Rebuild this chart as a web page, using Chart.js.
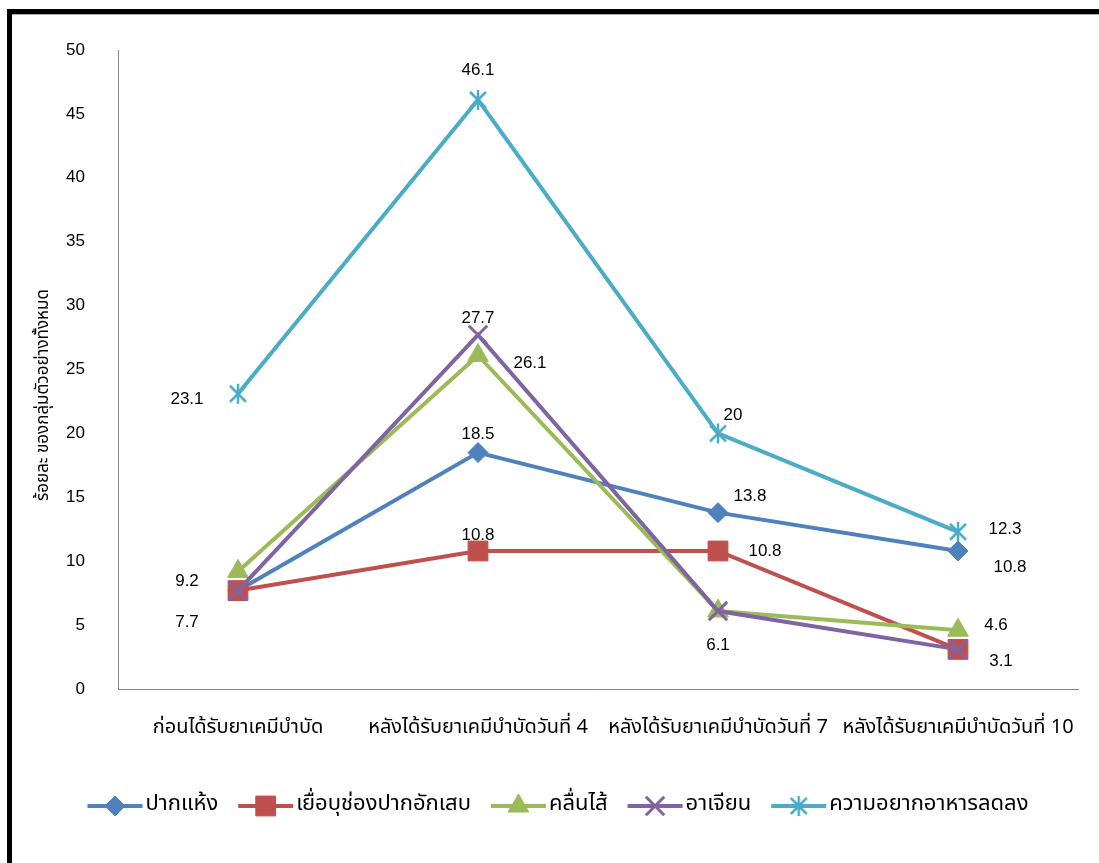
<!DOCTYPE html>
<html>
<head>
<meta charset="utf-8">
<script src="https://cdn.jsdelivr.net/npm/chart.js@4"></script>
<style>
  body { margin: 0; background: #fff; }
  #wrap { position: relative; width: 1099px; height: 863px; overflow: hidden; }
  #frameL { position: absolute; left: 7px; top: 9px; width: 5px; height: 854px; background: #000; }
  #frameT { position: absolute; left: 7px; top: 9px; width: 1092px; height: 5px; background: #000; }
  #frameT2 { position: absolute; left: 12px; top: 14px; width: 1087px; height: 1px; background: #aaa; }
  canvas { position: absolute; left: 0; top: 0; }
</style>
</head>
<body>
<div id="wrap">
  <canvas id="myChart" width="1099" height="863"></canvas>
  <div id="frameL"></div>
  <div id="frameT"></div>
  <div id="frameT2"></div>
</div>
<script>
const ctx = document.getElementById('myChart');
const thaiFont = "'Noto Sans Thai', 'Noto Sans', 'DejaVu Sans', sans-serif";
const numFont = "'Liberation Sans', Arial, sans-serif";

// data
const categories = ['ก่อนได้รับยาเคมีบำบัด', 'หลังได้รับยาเคมีบำบัดวันที่ 4', 'หลังได้รับยาเคมีบำบัดวันที่ 7', 'หลังได้รับยาเคมีบำบัดวันที่ 10'];
const seriesNames = ['ปากแห้ง', 'เยื่อบุช่องปากอักเสบ', 'คลื่นไส้', 'อาเจียน', 'ความอยากอาหารลดลง'];
const dryMouth = [7.7, 18.5, 13.8, 10.8];
const mucositis = [7.7, 10.8, 10.8, 3.1];
const nausea = [9.2, 26.1, 6.1, 4.6];
const vomiting = [7.7, 27.7, 6.1, 3.1];
const appetiteLoss = [23.1, 46.1, 20, 12.3];
const yTitle = 'ร้อยละ ของกลุ่มตัวอย่างทั้งหมด';

const colors = ['#4F81BD', '#C0504D', '#9BBB59', '#8064A2', '#4BACC6'];

// where each value label sits relative to its point (null = no label)
const labelOffsets = [
  [[-51, 32], [0, -18], [32, -16], [52, 16]],
  [null, [0, -16], [47, 0], [43, 12]],
  [[-51, 10], [52, 8], [0, 34], [38, -5]],
  [null, [0, -17], null, null],
  [[-51, 6], [0, -30], [15, -18], [47, -2]]
];

function makeStar(color) {
  const c = document.createElement('canvas');
  c.width = 22; c.height = 22;
  const g = c.getContext('2d');
  g.strokeStyle = color;
  g.lineWidth = 2.5;
  g.beginPath();
  g.moveTo(3, 3); g.lineTo(19, 19);
  g.moveTo(19, 3); g.lineTo(3, 19);
  g.moveTo(11, 1); g.lineTo(11, 21);
  g.stroke();
  return c;
}
const starImg = makeStar(colors[4]);

function series(i, data, style, radius, bw) {
  return {
    label: seriesNames[i],
    data: data,
    borderColor: colors[i],
    backgroundColor: colors[i],
    borderWidth: 4,
    pointStyle: style,
    pointRadius: radius,
    pointHoverRadius: radius,
    pointBorderWidth: bw,
    pointBackgroundColor: colors[i],
    pointBorderColor: colors[i],
    tension: 0,
    order: 4 - i
  };
}

const valueLabels = {
  id: 'valueLabels',
  afterDatasetsDraw(chart) {
    const c = chart.ctx;
    c.save();
    c.font = '17px ' + numFont;
    c.fillStyle = '#000';
    c.textAlign = 'center';
    c.textBaseline = 'middle';
    chart.data.datasets.forEach((ds, i) => {
      const meta = chart.getDatasetMeta(i);
      meta.data.forEach((pt, j) => {
        const off = labelOffsets[i][j];
        if (!off) return;
        c.fillText(String(ds.data[j]), pt.x + off[0], pt.y + off[1]);
      });
    });
    c.restore();
  }
};

// y axis title, a little below the middle like the original
const yTitlePlugin = {
  id: 'yTitlePlugin',
  afterDraw(chart) {
    const c = chart.ctx;
    c.save();
    c.translate(45, 395);
    c.rotate(-Math.PI / 2);
    c.font = '17px ' + thaiFont;
    c.fillStyle = '#000';
    c.textAlign = 'center';
    c.textBaseline = 'middle';
    c.fillText(yTitle, 0, 0);
    c.restore();
  }
};

const lineLegend = {
  id: 'lineLegend',
  afterDraw(chart) {
    const c = chart.ctx;
    const y = 806, lineLen = 55, gap = 3, itemGap = 20;
    c.save();
    c.font = '22px ' + thaiFont;
    c.textBaseline = 'middle';
    const items = chart.data.datasets.map(ds => ({ ds: ds, w: lineLen + gap + c.measureText(ds.label).width }));
    const total = items.reduce((s, it) => s + it.w, 0) + itemGap * (items.length - 1);
    let x = 558 - total / 2;
    items.forEach(it => {
      const ds = it.ds;
      c.strokeStyle = ds.borderColor;
      c.lineWidth = 4;
      c.beginPath();
      c.moveTo(x, y); c.lineTo(x + lineLen, y);
      c.stroke();
      c.fillStyle = ds.pointBackgroundColor;
      c.strokeStyle = ds.pointBorderColor;
      c.lineWidth = ds.pointBorderWidth;
      Chart.helpers.drawPoint(c, { pointStyle: ds.pointStyle, radius: ds.pointRadius, rotation: 0, borderWidth: ds.pointBorderWidth }, x + lineLen / 2, y);
      c.fillStyle = '#000';
      c.textAlign = 'left';
      c.fillText(ds.label, x + lineLen + gap, y);
      x += it.w + itemGap;
    });
    c.restore();
  }
};

let myChart = new Chart(ctx, {
  type: 'line',
  data: {
    labels: categories,
    datasets: [
      series(0, dryMouth, 'rectRot', 10, 1),
      series(1, mucositis, 'rect', 14, 1),
      series(2, nausea, 'triangle', 12, 1),
      series(3, vomiting, 'crossRot', 13, 3),
      series(4, appetiteLoss, starImg, 10, 1)
    ]
  },
  options: {
    responsive: false,
    animation: false,
    layout: { padding: { left: 14, right: 21, top: 50, bottom: 114 } },
    plugins: {
      legend: { display: false },
      tooltip: { enabled: false }
    },
    scales: {
      x: {
        offset: true,
        grid: { display: false, drawTicks: false },
        border: { display: true, color: '#868686', width: 1 },
        ticks: {
          color: '#000',
          font: { family: thaiFont, size: 20 },
          padding: 28,
          maxRotation: 0,
          autoSkip: false
        },
        afterFit(scale) {
          scale.height = 60;
          scale.paddingLeft = 0;
          scale.paddingRight = 0;
        }
      },
      y: {
        min: 0,
        max: 50,
        grid: { display: false, drawTicks: false },
        border: { display: true, color: '#868686', width: 1 },
        ticks: {
          stepSize: 5,
          color: '#000',
          font: { family: numFont, size: 17 },
          padding: 33
        },
        afterFit(scale) { scale.width = 104; }
      }
    }
  },
  plugins: [valueLabels, yTitlePlugin, lineLegend]
});
</script>
</body>
</html>
